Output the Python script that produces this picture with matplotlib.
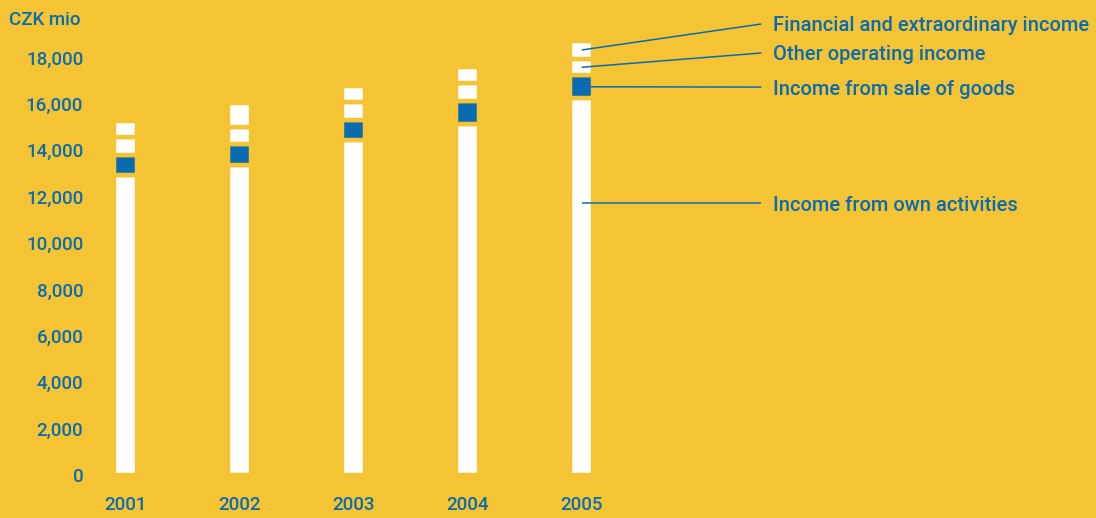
import matplotlib.pyplot as plt
import numpy as np

plt.rcParams['font.family'] = ['Roboto', 'DejaVu Sans']

yellow = '#f4c434'
blue = '#0a6cb0'

years = ['2001', '2002', '2003', '2004', '2005']
own_activities = [12930, 13360, 14440, 15150, 16250]
sale_of_goods = [880, 890, 880, 990, 970]
other_operating = [740, 750, 740, 740, 710]
financial = [720, 1030, 710, 710, 780]

series_names = ['Income from own activities', 'Income from sale of goods',
                'Other operating income', 'Financial and extraordinary income']
series_colors = ['white', blue, 'white', 'white']

fig = plt.figure(figsize=(10.96, 5.18), dpi=100, facecolor=yellow)
ax = fig.add_axes([100 / 1096, 43 / 518, 996 / 1096, 464 / 518])
ax.set_facecolor(yellow)

x = np.arange(len(years))
bottom = np.zeros(len(years))
stacks = [own_activities, sale_of_goods, other_operating, financial]
for vals, col in zip(stacks, series_colors):
    ax.bar(x, vals, width=0.206, bottom=bottom, color=col,
           edgecolor=yellow, linewidth=3.2)
    bottom += np.array(vals)

ax.set_xlim(-0.224, 8.51)
ax.set_ylim(0, 20000)
ax.set_yticks(np.arange(0, 18001, 2000))
ax.set_yticklabels([f'{v:,}' for v in range(0, 18001, 2000)])
ax.set_xticks(x)
ax.set_xticklabels(years)
ax.tick_params(length=0, labelsize=13.5, labelcolor=blue)
ax.tick_params(axis='y', pad=12)
ax.tick_params(axis='x', pad=15)
for lab in ax.get_xticklabels() + ax.get_yticklabels():
    lab.set_fontweight('medium')
for s in ax.spines.values():
    s.set_visible(False)

# callouts for the 2005 bar
last = len(years) - 1
mids = []
base = 0
for vals in stacks:
    mids.append(base + vals[last] / 2)
    base += vals[last]
mids[0] = 11720
text_y = [11720, 16720, 18190, 19440]
for name, m, ty in zip(series_names, mids, text_y):
    ax.plot([last, 5.575], [m, ty], color=blue, lw=1.1, solid_capstyle='butt')
    ax.text(5.68, ty, name, color=blue, fontsize=14.5, fontweight='medium',
            va='center_baseline', ha='left')

fig.text(9 / 1096, 1 - 18 / 518, 'CZK mio', color=blue, fontsize=13.5,
         fontweight='medium', va='center_baseline', ha='left')

fig.savefig('out.png', dpi=100, facecolor=yellow)
